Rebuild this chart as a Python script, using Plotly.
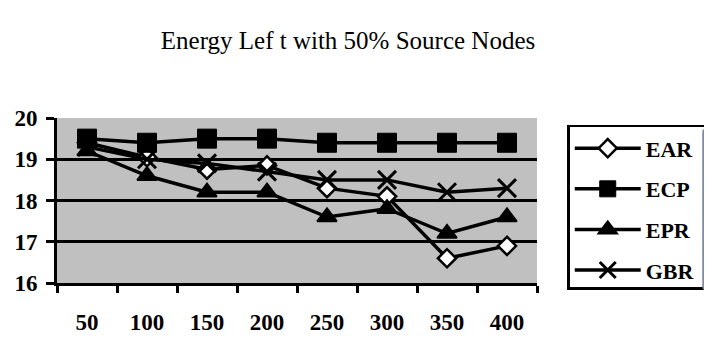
import plotly.graph_objects as go

categories = ["50", "100", "150", "200", "250", "300", "350", "400"]
ear = [19.4, 19.05, 18.75, 18.85, 18.3, 18.1, 16.6, 16.9]
ecp = [19.5, 19.4, 19.5, 19.5, 19.4, 19.4, 19.4, 19.4]
epr = [19.2, 18.6, 18.2, 18.2, 17.6, 17.8, 17.2, 17.6]
gbr = [19.3, 19.0, 18.9, 18.7, 18.5, 18.5, 18.2, 18.3]
y_ticks = [16, 17, 18, 19, 20]

FONT = "Liberation Serif"

series = [
    ("EAR", ear, dict(symbol="diamond", size=14, color="white", line=dict(color="black", width=2.5))),
    ("ECP", ecp, dict(symbol="square", size=19, color="black", line=dict(color="black", width=1))),
    ("EPR", epr, dict(symbol="triangle-up", size=17, color="black", line=dict(color="black", width=2))),
    ("GBR", gbr, dict(symbol="x-thin", size=18, color="black", line=dict(color="black", width=3))),
]

fig = go.Figure()
for name, vals, mk in series:
    fig.add_trace(go.Scatter(
        x=categories, y=vals, name=name, mode="lines+markers",
        line=dict(color="black", width=3.5), marker=mk, legendgroup=name,
    ))

# page has a default 8px body margin, so the figure is offset by 8px
fig.update_layout(
    width=704, height=351,
    margin=dict(l=49, r=175, t=110, b=76, autoexpand=False),
    paper_bgcolor="white", plot_bgcolor="#c0c0c0",
    font=dict(family=FONT, color="black"),
    title=dict(text="Energy Lef t with 50% Source Nodes",
               x=0.483, xanchor="center", y=0.909, yanchor="middle",
               font=dict(family=FONT, size=25, color="black")),
    showlegend=True,
    legend=dict(x=1.063, y=0.958, xanchor="left", yanchor="top",
                bordercolor="black", borderwidth=2.5, bgcolor="white",
                font=dict(family=FONT, size=22, color="black", weight="bold"),
                itemwidth=66, tracegroupgap=9, traceorder="grouped"),
)
fig.update_xaxes(
    type="category", showgrid=False, showline=True, linecolor="black", linewidth=3,
    ticks="outside", tickson="boundaries", ticklen=7, tickwidth=2.5, tickcolor="black",
    tickfont=dict(family=FONT, size=23, color="black", weight="bold"),
    ticklabelstandoff=16, range=[-0.5, 7.5], automargin=False,
)
fig.update_yaxes(
    range=[16, 20], tickvals=y_ticks, showgrid=True, gridcolor="black", gridwidth=3,
    showline=True, linecolor="black", linewidth=3, zeroline=False,
    ticks="outside", ticklen=8, tickwidth=2.5, tickcolor="black",
    tickfont=dict(family=FONT, size=23, color="black", weight="bold"),
    ticklabelstandoff=4, automargin=False,
)

fig.write_html("out.html")
